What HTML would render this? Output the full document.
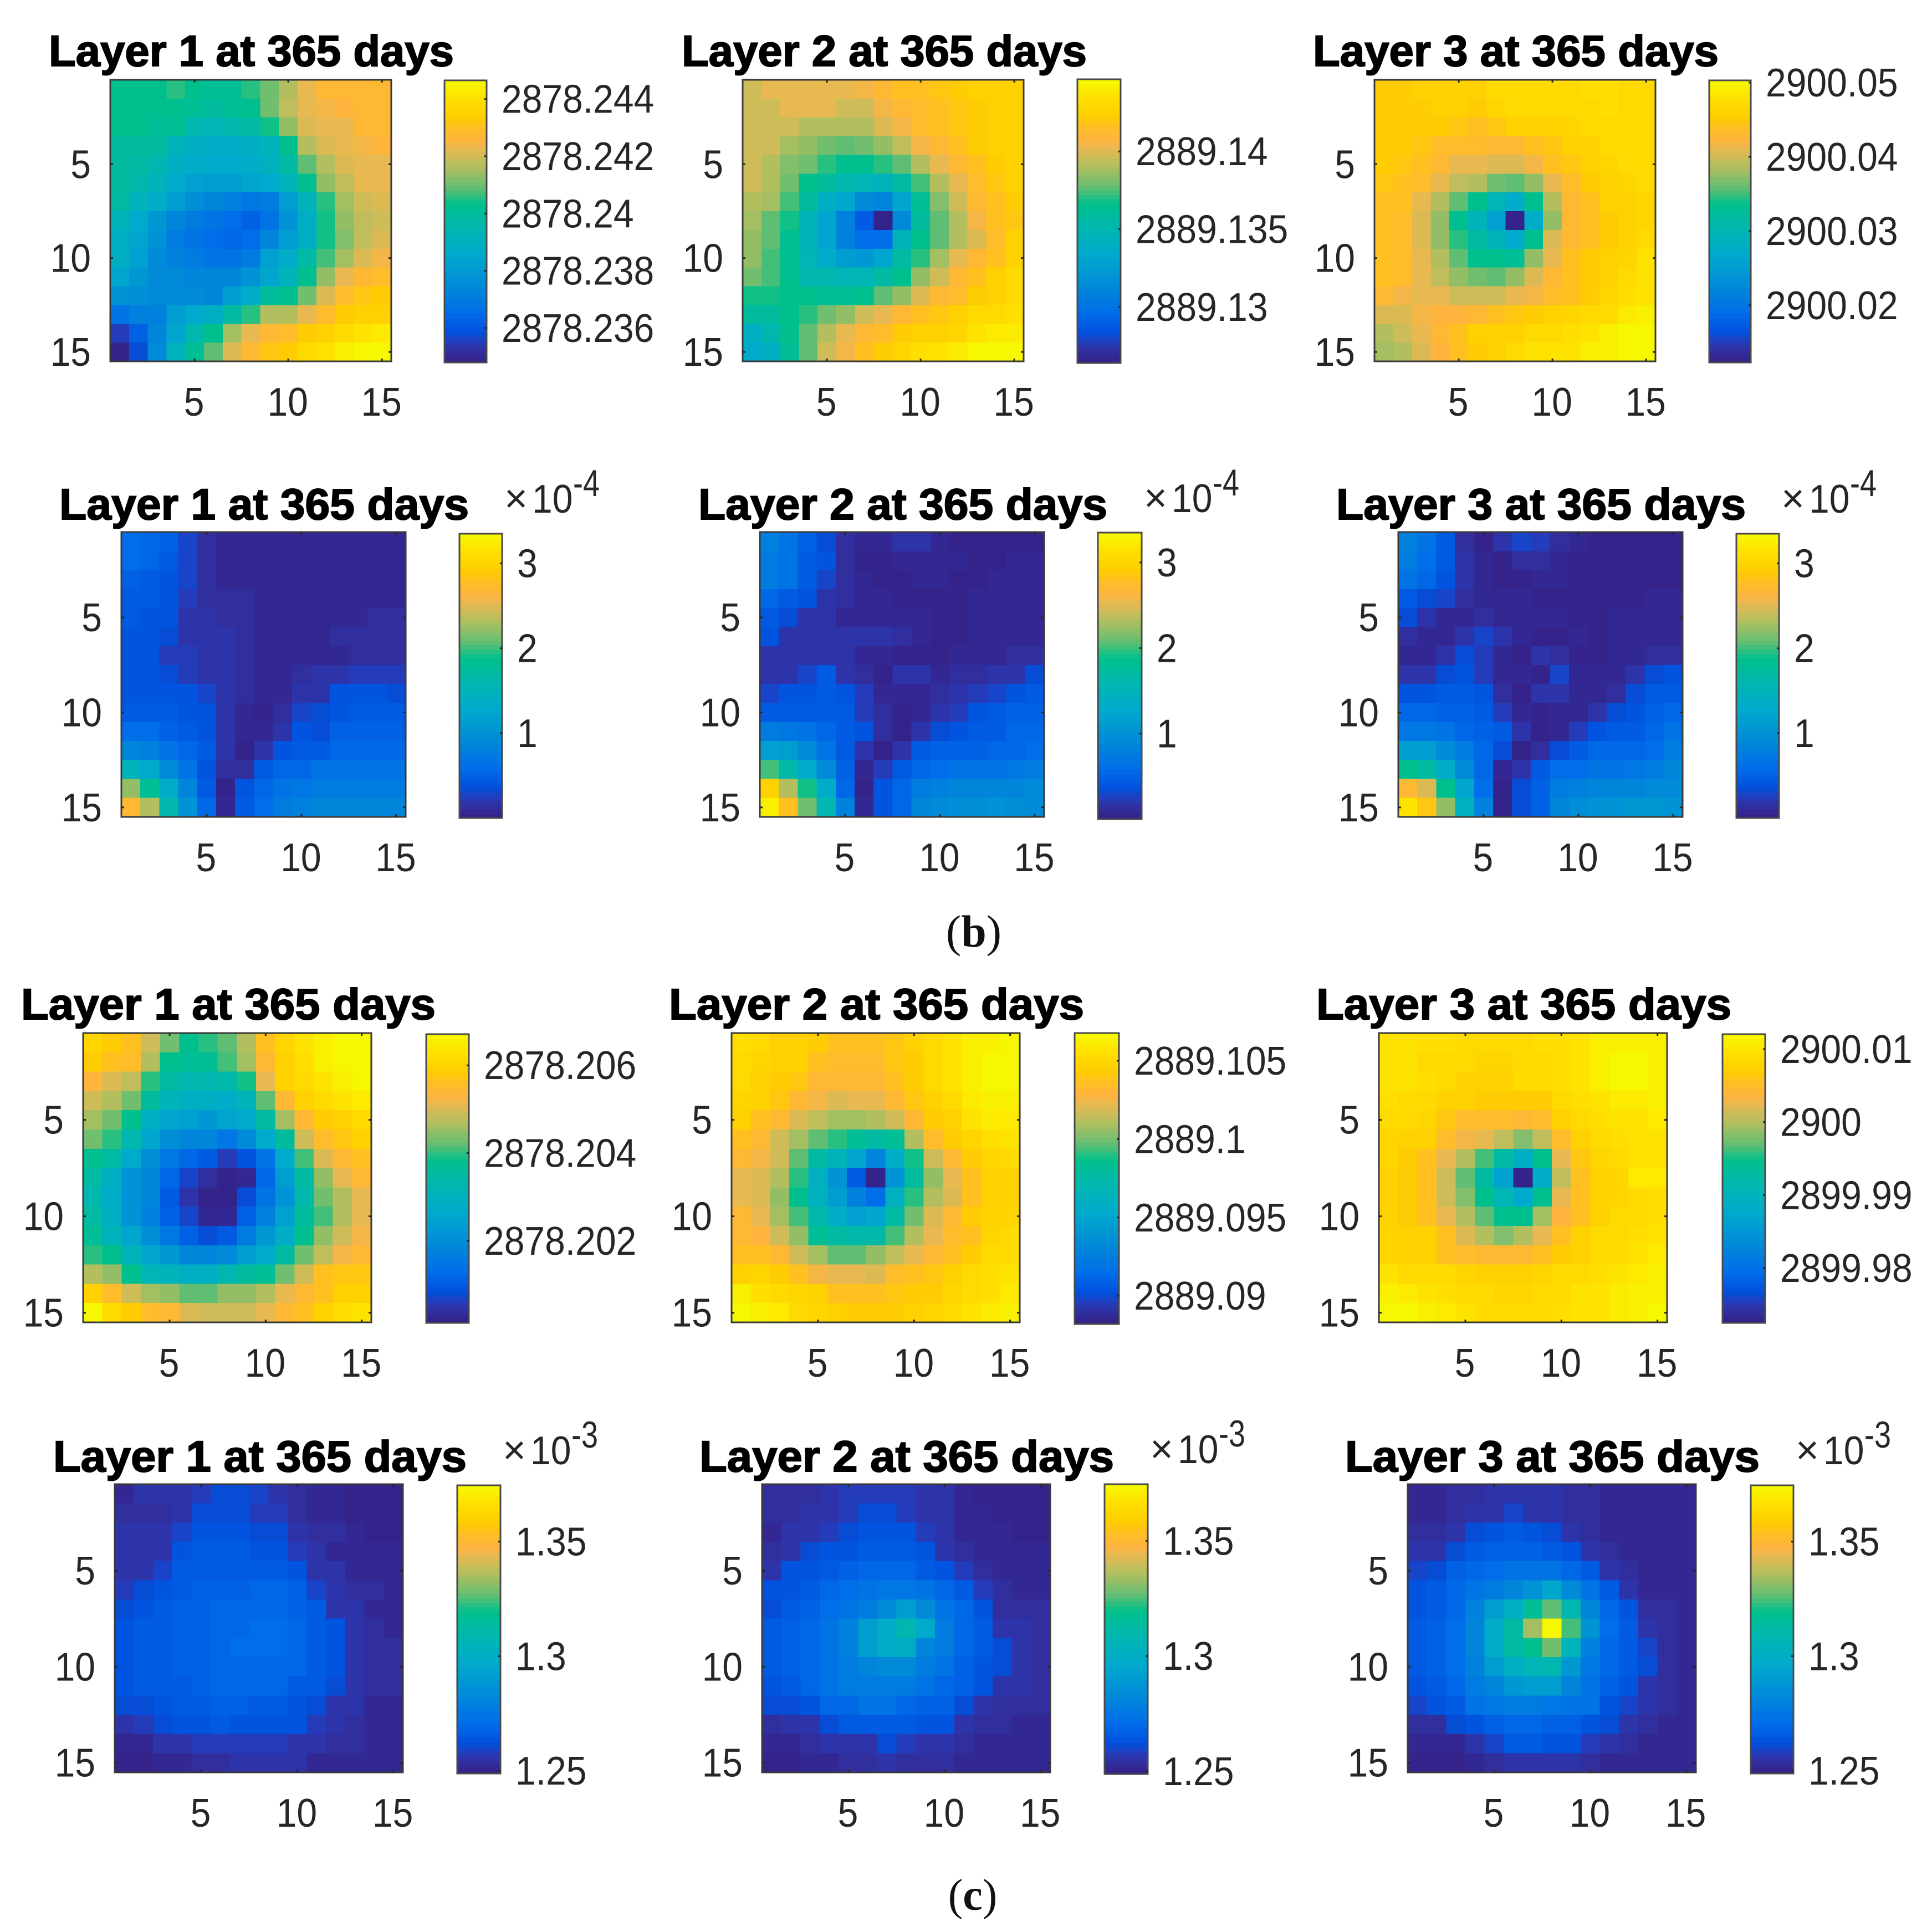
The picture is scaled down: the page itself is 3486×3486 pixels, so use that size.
<!DOCTYPE html>
<html lang="en">
<head>
<meta charset="utf-8">
<title>Layer heatmaps at 365 days</title>
<style>
html,body{margin:0;padding:0;background:#fff;width:3486px;height:3486px;overflow:hidden}
svg{display:block}
text{font-family:"Liberation Sans",Arial,sans-serif}
</style>
</head>
<body>
<svg id="figure" xmlns="http://www.w3.org/2000/svg" width="3486" height="3486" viewBox="0 0 3486 3486">
<rect x="0" y="0" width="3486" height="3486" fill="#fff"/>
<text x="1757" y="1708" text-anchor="middle" font-size="82" fill="#111" style="font-family:'Liberation Serif',serif">(<tspan font-weight="bold">b</tspan>)</text>
<text x="1755" y="3446" text-anchor="middle" font-size="80" fill="#111" style="font-family:'Liberation Serif',serif">(<tspan font-weight="bold">c</tspan>)</text>
</svg>
<script>
// Cell values: percent of each panel's colour range.
const valuesB1Head = [
[56,56,56,59,56,54,54,58,64,70,76,80,81,81,81],
[56,56,56,56,54,53,54,56,63,71,76,77,79,81,81],
[55,55,54,54,47,46,48,50,57,66,74,75,76,80,80],
[53,53,52,44,41,40,40,41,45,56,70,74,76,78,79],
[53,51,47,42,40,39,39,40,43,51,61,70,74,76,76],
[52,49,44,38,35,34,34,36,38,45,56,66,71,75,75],
[50,45,40,33,29,26,24,21,23,34,44,59,68,72,74],
[45,39,32,26,22,20,18,15,20,30,41,57,66,71,73],
[42,37,30,23,20,18,16,18,25,34,42,57,65,71,74],
[41,35,28,24,22,20,20,22,35,40,50,60,68,74,77],
[36,32,28,27,26,25,25,30,37,45,55,66,75,81,82],
[30,29,28,28,27,26,33,40,52,56,64,74,82,85,86],
[20,24,24,33,39,42,50,58,70,70,76,82,87,89,89],
[7,15,26,37,47,56,68,76,80,82,86,88,92,94,96],
[1,10,28,44,54,62,74,80,85,87,91,94,97,99,100]];
const valuesB2Head = [
[72,76,76,76,76,76,78,81,83,84,85,86,88,89,89],
[72,72,76,76,76,72,72,78,81,82,84,85,87,89,89],
[73,73,72,70,70,70,70,74,77,82,84,85,87,88,89],
[72,72,68,66,64,62,64,66,71,77,81,84,87,88,89],
[72,70,65,63,58,56,56,58,62,70,75,80,84,87,88],
[72,69,64,56,52,48,46,45,50,60,70,76,82,85,88],
[70,68,60,53,42,36,28,25,36,54,65,73,80,84,86],
[68,62,57,45,37,24,14,0,27,52,62,70,77,84,85],
[66,61,55,44,37,24,18,18,45,55,62,70,74,82,88],
[66,60,55,46,40,33,32,37,50,58,68,75,80,84,88],
[64,60,55,48,47,46,46,50,55,66,72,81,84,89,91],
[57,57,56,56,54,54,56,62,67,74,80,82,87,89,92],
[52,52,55,59,63,66,73,76,81,84,85,88,91,92,93],
[42,47,55,62,70,76,81,82,86,88,89,90,94,96,96],
[38,42,54,62,73,78,84,87,90,93,94,96,99,100,99]];
const valuesB3Head = [
[87,87,88,88,88,89,91,91,91,91,92,93,93,92,92],
[87,87,87,88,88,87,90,91,91,91,92,92,93,92,92],
[87,87,86,86,85,84,85,88,88,89,90,91,92,92,92],
[86,86,85,82,82,82,81,81,83,85,88,89,91,92,92],
[86,85,83,80,75,75,74,74,77,83,85,89,90,91,92],
[85,84,82,76,71,69,64,62,66,75,82,86,88,90,91],
[84,83,76,70,62,55,46,40,55,70,81,84,88,89,90],
[83,82,74,66,55,45,35,0,40,67,80,83,87,89,90],
[83,82,74,66,59,50,45,38,55,74,81,83,86,89,92],
[83,82,75,70,62,56,55,54,66,76,83,86,88,90,94],
[83,82,76,71,67,64,62,66,74,81,84,86,88,91,94],
[81,78,76,75,72,72,72,76,78,82,84,87,90,93,95],
[74,74,77,79,79,81,84,85,87,88,90,91,92,96,97],
[70,72,76,81,83,88,89,89,91,92,93,95,97,99,99],
[68,70,74,79,83,87,88,92,94,94,95,97,98,99,100]];
const valuesB1Error = [
[18,17,15,8,4,2,2,2,3,3,2,2,2,2,2],
[18,17,14,8,4,2,2,2,3,3,2,2,2,2,2],
[15,14,12,8,4,2,2,2,2,2,2,2,2,2,2],
[14,14,12,7,4,4,4,2,2,2,2,2,2,2,3],
[14,12,11,6,5,4,4,3,2,2,2,3,3,4,4],
[12,12,10,6,5,5,4,3,2,2,3,4,4,4,4],
[11,11,7,7,5,5,4,3,2,2,3,3,4,4,4],
[11,11,10,7,6,5,4,2,2,4,6,6,7,7,7],
[12,12,12,11,8,5,4,2,3,6,6,11,11,11,10],
[14,14,13,12,11,5,3,1,4,8,10,11,13,14,14],
[18,18,15,14,11,6,3,3,5,11,10,15,15,15,15],
[26,24,19,16,13,6,1,6,12,13,14,16,17,17,17],
[45,38,28,20,12,4,4,14,17,17,19,19,20,20,20],
[67,54,40,25,14,1,11,17,20,21,22,22,23,23,23],
[81,70,47,30,17,3,13,18,22,24,25,25,26,26,26]];
const valuesB2Error = [
[24,20,15,10,4,3,3,5,5,3,1,1,1,1,1],
[23,19,14,11,4,1,1,3,3,3,2,1,1,2,2],
[23,19,14,8,4,2,1,1,3,3,1,1,2,2,2],
[16,13,11,5,4,2,2,1,1,1,1,2,2,2,2],
[14,10,5,5,3,3,3,2,2,1,1,2,2,2,2],
[11,5,5,5,5,5,5,4,2,1,1,2,3,3,3],
[5,5,5,5,5,3,3,1,1,1,2,2,3,4,4],
[5,5,9,13,5,4,1,5,5,3,4,4,6,6,10],
[9,11,11,13,12,7,3,3,3,4,5,7,9,11,13],
[14,14,14,14,13,7,4,1,3,5,7,11,13,15,15],
[23,21,19,16,14,11,4,1,6,10,12,14,14,17,17],
[35,33,27,20,14,5,1,6,13,15,15,15,16,17,18],
[60,49,38,28,15,3,7,13,17,18,20,20,20,21,23],
[88,70,57,40,17,1,12,16,23,24,25,25,25,26,27],
[98,84,64,47,24,3,12,17,26,28,29,29,30,29,27]];
const valuesB3Error = [
[24,19,13,4,1,6,8,7,4,3,1,1,1,1,1],
[22,18,13,5,3,1,4,4,3,1,1,1,1,1,1],
[20,16,12,5,3,1,1,3,3,1,1,1,1,1,1],
[13,10,8,4,2,2,2,1,1,1,1,1,1,2,2],
[10,5,3,3,4,3,3,2,2,1,1,2,2,2,2],
[4,3,3,6,8,6,3,1,1,2,1,2,3,3,3],
[3,3,6,10,7,3,1,6,4,1,1,2,3,4,4],
[6,6,10,11,7,2,2,1,8,3,2,3,6,10,11],
[11,11,13,14,12,4,1,5,5,3,3,4,10,13,14],
[16,16,15,15,13,7,3,1,2,3,5,10,11,15,17],
[21,21,20,17,15,13,5,1,3,7,11,13,14,16,20],
[34,33,28,22,16,10,1,4,10,13,16,17,17,18,22],
[56,50,40,28,16,3,5,13,18,18,19,20,21,23,25],
[81,74,56,36,18,1,10,15,22,24,26,26,26,27,28],
[94,85,66,43,24,1,10,15,25,29,30,31,32,32,30]];
const valuesC1Head = [
[90,87,83,73,64,55,58,62,70,84,90,95,97,99,100],
[87,84,82,70,56,54,54,60,68,81,89,93,98,100,100],
[79,74,71,59,50,48,48,49,57,76,88,92,94,97,100],
[72,70,63,53,44,42,42,40,45,61,80,89,91,94,96],
[68,64,55,42,36,35,32,36,38,50,68,80,87,88,91],
[64,58,47,37,29,26,25,21,28,39,53,73,82,85,88],
[56,50,39,29,21,17,13,7,11,20,38,60,74,81,83],
[50,41,30,25,16,9,4,0,3,16,33,50,67,76,80],
[47,40,30,25,14,6,1,1,10,19,30,49,63,70,75],
[50,42,30,24,15,9,3,3,15,24,35,52,60,70,75],
[54,45,36,29,21,15,10,14,22,32,40,56,66,73,77],
[58,55,44,36,32,26,25,27,34,39,50,63,71,78,81],
[70,67,55,46,44,42,42,48,53,54,63,72,84,85,85],
[88,82,72,68,66,62,62,67,66,70,76,81,84,88,89],
[100,92,87,82,80,74,73,73,73,76,80,83,88,93,95]];
const valuesC2Head = [
[93,91,89,88,86,84,83,83,85,88,92,95,97,98,99],
[92,90,89,88,84,82,82,82,85,87,91,95,97,99,99],
[91,89,87,85,81,81,81,81,84,87,91,94,97,99,99],
[90,88,85,81,77,74,76,75,81,85,88,92,96,98,98],
[88,84,80,74,71,68,68,69,73,80,86,89,94,96,96],
[83,81,73,68,62,58,54,50,54,70,82,87,90,93,94],
[81,77,72,62,51,44,37,26,40,57,72,80,86,90,92],
[76,74,70,58,43,30,14,0,30,53,66,75,83,88,89],
[76,74,67,55,43,34,24,18,43,58,70,74,84,88,89],
[80,76,68,60,49,40,35,36,50,63,74,80,86,89,90],
[81,79,73,66,54,51,49,49,60,70,75,82,84,90,92],
[84,83,80,72,68,62,62,66,71,75,81,83,87,91,92],
[89,90,86,83,77,75,75,74,82,84,85,88,91,93,94],
[97,93,92,90,88,84,84,84,85,86,86,90,91,93,96],
[100,97,96,91,90,89,87,87,87,88,90,92,94,96,98]];
const valuesC3Head = [
[95,94,93,93,92,92,91,91,93,93,95,97,98,98,97],
[94,94,92,91,91,90,90,91,91,93,95,98,99,99,98],
[94,94,93,91,89,89,89,91,91,93,95,97,99,99,98],
[93,92,92,89,88,87,87,86,86,92,93,95,96,96,97],
[92,91,90,85,82,82,82,80,82,89,92,93,95,95,96],
[90,89,88,82,77,75,71,65,71,82,88,91,93,95,95],
[90,87,84,76,69,60,50,42,55,75,85,90,91,94,94],
[89,86,83,72,62,50,35,0,40,71,84,89,90,96,96],
[89,86,83,72,65,55,46,38,55,75,84,88,90,92,93],
[89,87,83,76,69,62,56,56,68,79,84,89,91,92,93],
[90,89,88,83,74,69,65,70,76,83,89,91,92,93,95],
[90,89,88,84,82,81,81,81,83,86,88,91,92,94,96],
[94,92,92,91,90,89,88,88,90,91,92,93,94,96,97],
[97,96,95,93,92,91,90,90,91,92,94,95,96,97,98],
[100,99,97,96,94,92,91,91,92,93,94,95,96,97,99]];
const valuesC1Error = [
[2,5,5,5,7,10,10,8,6,4,3,3,1,1,1],
[4,4,4,5,10,10,10,7,7,4,3,3,1,1,1],
[5,5,5,8,11,11,11,10,10,6,4,4,3,1,1],
[6,6,6,11,13,13,13,12,12,7,5,3,3,3,3],
[6,6,9,13,14,14,14,14,14,12,6,5,3,3,3],
[7,10,12,14,15,15,15,16,16,15,9,5,4,4,3],
[10,11,14,15,15,16,17,17,17,15,13,6,5,3,3],
[11,13,14,15,15,16,17,18,18,16,14,12,6,4,3],
[11,13,14,15,15,16,18,18,18,16,14,12,6,4,4],
[11,13,14,15,15,16,17,17,17,16,14,12,6,4,4],
[11,13,13,14,15,16,16,16,16,14,13,10,6,4,4],
[10,10,12,13,14,15,15,14,14,11,10,6,5,3,3],
[5,7,10,11,11,13,12,11,11,11,7,5,4,3,3],
[3,3,5,6,7,7,7,7,7,5,5,4,4,2,2],
[1,1,3,3,4,4,5,5,5,5,3,3,2,2,2]];
const valuesC2Error = [
[4,4,4,6,7,7,7,7,5,5,3,1,1,1,1],
[4,4,5,5,7,10,10,7,5,5,3,3,1,1,1],
[3,5,5,7,10,12,12,11,7,5,3,3,3,1,1],
[4,6,10,11,12,14,13,13,11,6,4,3,3,3,3],
[6,11,12,14,15,16,16,16,14,12,7,4,3,3,3],
[11,11,14,16,18,19,21,21,20,16,13,7,4,3,3],
[10,13,15,18,20,23,28,34,28,20,16,12,4,4,4],
[13,15,16,20,24,33,40,47,38,23,16,13,6,5,4],
[13,15,16,20,24,33,40,42,26,22,16,14,10,5,4],
[13,15,16,20,22,26,28,28,22,19,15,12,10,5,4],
[11,13,16,19,22,23,23,23,20,16,15,11,6,6,4],
[10,10,11,16,17,19,19,17,15,15,10,6,4,4,4],
[4,5,6,10,14,14,14,14,12,11,6,4,4,3,3],
[2,3,4,5,6,6,10,7,5,5,4,3,3,2,2],
[1,1,2,3,4,4,6,4,4,4,3,2,2,2,2]];
const valuesC3Error = [
[3,3,4,4,5,6,5,5,4,4,2,2,2,2,2],
[3,3,4,5,5,9,5,5,4,4,2,2,2,2,2],
[4,4,6,10,11,13,12,10,5,4,3,2,2,2,2],
[5,5,10,14,15,15,15,14,12,5,4,3,2,2,2],
[9,10,15,17,18,19,19,19,17,14,5,4,3,2,2],
[12,13,16,19,22,25,31,36,28,19,14,6,3,3,3],
[12,14,17,24,33,42,54,62,47,25,17,12,4,4,3],
[13,15,18,25,40,50,68,100,60,30,18,14,6,4,3],
[13,15,18,25,40,50,56,64,45,24,16,14,9,4,3],
[13,15,18,24,34,42,46,47,32,21,16,14,10,4,3],
[12,14,16,22,25,32,34,34,26,20,15,12,6,4,3],
[9,11,13,19,21,22,23,21,19,19,11,9,5,4,3],
[4,4,10,11,15,16,16,15,15,12,10,5,4,3,3],
[2,2,2,6,9,13,13,11,11,7,6,4,3,2,2],
[1,1,1,3,4,6,6,6,6,4,3,3,3,2,2]];

// Axis tick values and labels.
const axisTicks = [5, 10, 15];
const titles = ["Layer 1 at 365 days","Layer 2 at 365 days","Layer 3 at 365 days"];

// Colourbar ranges and ticks, in data units.
const rangeB1Head = [2878.2348, 2878.24465];
const rangeB2Head = [2889.1264, 2889.14464];
const rangeB3Head = [2900.0123, 2900.0503];
const rangeBError = [0, 3.35];
const rangeC1Head = [2878.20013, 2878.20671];
const rangeC2Head = [2889.0882, 2889.10677];
const rangeC3Head = [2899.97248, 2900.01205];
const rangeCError = [1.2488, 1.3746];
const ticksB1Head = [2878.236, 2878.238, 2878.24, 2878.242, 2878.244];
const labelsB1Head = ["2878.236","2878.238","2878.24","2878.242","2878.244"];
const ticksB2Head = [2889.13, 2889.135, 2889.14];
const labelsB2Head = ["2889.13","2889.135","2889.14"];
const ticksB3Head = [2900.02, 2900.03, 2900.04, 2900.05];
const labelsB3Head = ["2900.02","2900.03","2900.04","2900.05"];
const ticksBError = [1, 2, 3];
const labelsBError = ["1","2","3"];
const ticksC1Head = [2878.202, 2878.204, 2878.206];
const labelsC1Head = ["2878.202","2878.204","2878.206"];
const ticksC2Head = [2889.09, 2889.095, 2889.1, 2889.105];
const labelsC2Head = ["2889.09","2889.095","2889.1","2889.105"];
const ticksC3Head = [2899.98, 2899.99, 2900, 2900.01];
const labelsC3Head = ["2899.98","2899.99","2900","2900.01"];
const ticksCError = [1.25, 1.3, 1.35];
const labelsCError = ["1.25","1.3","1.35"];

const panelData = [
 {layer:0, values:valuesB1Head, range:rangeB1Head, ticks:ticksB1Head, labels:labelsB1Head},
 {layer:1, values:valuesB2Head, range:rangeB2Head, ticks:ticksB2Head, labels:labelsB2Head},
 {layer:2, values:valuesB3Head, range:rangeB3Head, ticks:ticksB3Head, labels:labelsB3Head},
 {layer:0, values:valuesB1Error, range:rangeBError, ticks:ticksBError, labels:labelsBError, exponent:"-4"},
 {layer:1, values:valuesB2Error, range:rangeBError, ticks:ticksBError, labels:labelsBError, exponent:"-4"},
 {layer:2, values:valuesB3Error, range:rangeBError, ticks:ticksBError, labels:labelsBError, exponent:"-4"},
 {layer:0, values:valuesC1Head, range:rangeC1Head, ticks:ticksC1Head, labels:labelsC1Head},
 {layer:1, values:valuesC2Head, range:rangeC2Head, ticks:ticksC2Head, labels:labelsC2Head},
 {layer:2, values:valuesC3Head, range:rangeC3Head, ticks:ticksC3Head, labels:labelsC3Head},
 {layer:0, values:valuesC1Error, range:rangeCError, ticks:ticksCError, labels:labelsCError, exponent:"-3"},
 {layer:1, values:valuesC2Error, range:rangeCError, ticks:ticksCError, labels:labelsCError, exponent:"-3"},
 {layer:2, values:valuesC3Error, range:rangeCError, ticks:ticksCError, labels:labelsCError, exponent:"-3"}
];

// Page layout (separate from the data): axes box, colourbar box, title box.
const layout = [
 {l:199,t:144,w:507,h:508,cl:802,cr:878,ct:145,cb:654,tx:88,tw:731,ty:119},
 {l:1340,t:144,w:507,h:508,cl:1944,cr:2022,ct:143,cb:655,tx:1230,tw:731,ty:119},
 {l:2480,t:144,w:507,h:508,cl:3084,cr:3159,ct:145,cb:654,tx:2369,tw:732,ty:119},
 {l:219,t:960,w:513,h:514,cl:829,cr:906,ct:963,cb:1476,tx:107,tw:739,ty:937,ey:925},
 {l:1371,t:960,w:513,h:514,cl:1981,cr:2060,ct:961,cb:1478,tx:1260,tw:738,ty:937,ey:924},
 {l:2523,t:960,w:513,h:514,cl:3133,cr:3210,ct:963,cb:1476,tx:2411,tw:739,ty:937,ey:925},
 {l:150,t:1864,w:520,h:522,cl:769,cr:846,ct:1866,cb:2387,tx:38,tw:748,ty:1839},
 {l:1320,t:1864,w:520,h:522,cl:1939,cr:2019,ct:1864,cb:2389,tx:1207,tw:749,ty:1839},
 {l:2488,t:1864,w:520,h:522,cl:3108,cr:3185,ct:1866,cb:2387,tx:2375,tw:749,ty:1839},
 {l:207,t:2678,w:520,h:520,cl:825,cr:903,ct:2680,cb:3200,tx:96,tw:746,ty:2655,ey:2642},
 {l:1375,t:2678,w:520,h:520,cl:1993,cr:2071,ct:2678,cb:3201,tx:1262,tw:748,ty:2655,ey:2640},
 {l:2540,t:2678,w:520,h:520,cl:3159,cr:3236,ct:2680,cb:3200,tx:2427,tw:748,ty:2655,ey:2642}
];

// Colour map stops measured from the colourbars: position %, r, g, b.
const colourStops = [
 [0,53,32,135],[3,50,42,150],[5,48,50,165],[8,30,65,195],[10,8,75,212],[12,0,85,225],[18,0,110,232],
 [28,0,140,215],[38,0,170,205],[48,0,183,175],[56,0,192,140],[58,30,192,130],[62,100,190,115],
 [69,175,190,95],[72,200,188,90],[76,235,185,80],[79,255,180,60],[83,255,190,38],[87,255,205,0],[94,255,225,0],[100,245,250,0]
];
const colourLevels = 64;
const SVGNS = "http://www.w3.org/2000/svg";
const figure = document.getElementById("figure");

function colourFor(percent){
  const level = Math.min(colourLevels - 1, Math.max(0, Math.floor(percent / 100 * colourLevels)));
  const p = (level + 0.5) / colourLevels * 100;
  let i = 0;
  while (i < colourStops.length - 2 && p > colourStops[i + 1][0]) i++;
  const a = colourStops[i], b = colourStops[i + 1];
  const f = Math.max(0, Math.min(1, (p - a[0]) / (b[0] - a[0])));
  const mix = k => Math.round(a[k] + (b[k] - a[k]) * f);
  return "rgb(" + mix(1) + "," + mix(2) + "," + mix(3) + ")";
}
function make(tag, parent, attrs){
  const el = document.createElementNS(SVGNS, tag);
  for (const k in attrs) el.setAttribute(k, attrs[k]);
  parent.appendChild(el);
  return el;
}
function labelWidth(s){
  let n = 0;
  for (const c of s) n += c === "." ? 0.278 : 0.556;
  return n * 66;
}
function tickText(parent, s, x, y, anchor){
  const t = make("text", parent, {x:x, y:y, "text-anchor":anchor, "font-size":72, fill:"#262626",
    textLength:labelWidth(s), lengthAdjust:"spacingAndGlyphs"});
  t.textContent = s;
  return t;
}

panelData.forEach(function(panel, index){
  const box = layout[index];
  const xScale = v => box.l + (v - 0.5) / 15 * box.w;
  const yScale = v => box.t + (v - 0.5) / 15 * box.h;
  const cScale = v => box.cb - (v - panel.range[0]) / (panel.range[1] - panel.range[0]) * (box.cb - box.ct);

  const group = make("g", figure, {});
  
  

  const title = make("text", group, {x:box.tx, y:box.ty, "font-size":79, "font-weight":"bold", fill:"#000",
    stroke:"#000", "stroke-width":2, textLength:box.tw, lengthAdjust:"spacingAndGlyphs"});
  title.textContent = titles[panel.layer];
  
  

  // heatmap cells
  panel.values.forEach(function(row, r){
    row.forEach(function(value, c){
      const x0 = xScale(c + 0.5), x1 = xScale(c + 1.5), y0 = yScale(r + 0.5), y1 = yScale(r + 1.5);
      const cell = make("rect", group, {x:x0, y:y0, width:x1 - x0 + 0.5, height:y1 - y0 + 0.5,
        fill:colourFor(value), "shape-rendering":"crispEdges"});
      
      
    });
  });

  const frame = make("rect", group, {x:box.l, y:box.t, width:box.w, height:box.h, fill:"none", stroke:"#3a3a3a", "stroke-width":3});
  
  

  // axis ticks and labels
  axisTicks.forEach(function(v){
    const px = xScale(v), py = yScale(v), len = 5;
    const tickSegments = [
      [px, box.t + box.h, px, box.t + box.h - len], [px, box.t, px, box.t + len],
      [box.l, py, box.l + len, py], [box.l + box.w, py, box.l + box.w - len, py]
    ];
    tickSegments.forEach(function(s){
      const tick = make("line", group, {x1:s[0], y1:s[1], x2:s[2], y2:s[3], stroke:"#262626", "stroke-width":3});
      
      
    });
    const xLabel = tickText(group, String(v), px - 1, box.t + box.h + 98, "middle");
    
    
    const yLabel = tickText(group, String(v), box.l - 35, py + 25, "end");
    
    
  });

  // colourbar
  const bandH = (box.cb - box.ct) / colourLevels;
  for (let i = 0; i < colourLevels; i++) {
    const band = make("rect", group, {x:box.cl, y:box.cb - (i + 1) * bandH, width:box.cr - box.cl, height:bandH + 0.6,
      fill:colourFor((i + 0.5) / colourLevels * 100), "shape-rendering":"crispEdges"});
    
    
  }
  const cbFrame = make("rect", group, {x:box.cl, y:box.ct, width:box.cr - box.cl, height:box.cb - box.ct, fill:"none", stroke:"#4a4a4a", "stroke-width":3});
  
  
  panel.ticks.forEach(function(v, i){
    const py = cScale(v);
    const cbTick = make("line", group, {x1:box.cr, y1:py, x2:box.cr - 4, y2:py, stroke:"#262626", "stroke-width":3});
    
    
    const cbLabel = tickText(group, panel.labels[i], box.cr + 27, py + 25, "start");
    
    
  });

  // colourbar scale exponent
  if (panel.exponent) {
    const times = make("text", group, {x:box.cr + 4, y:box.ey - 1, "font-size":72, fill:"#262626"});
    times.textContent = "\u00D7";
    
    
    const ten = tickText(group, "10", box.cr + 54, box.ey, "start");
    
    
    const power = make("text", group, {x:box.cr + 128, y:box.ey - 30, "font-size":68, fill:"#262626",
      textLength:48, lengthAdjust:"spacingAndGlyphs"});
    power.textContent = panel.exponent;
    
    
  }
});
</script>
</body>
</html>
